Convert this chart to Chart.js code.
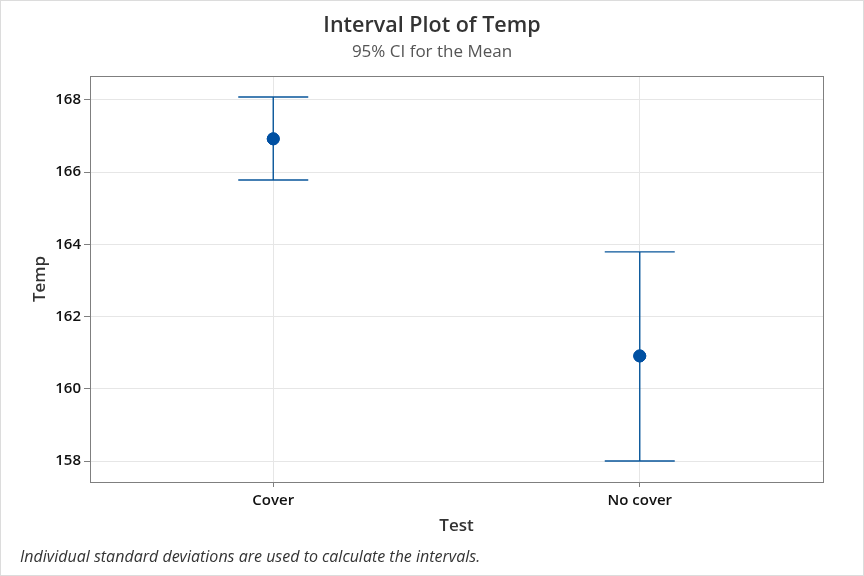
<!DOCTYPE html>
<html>
<head>
<meta charset="utf-8">
<script src="https://cdn.jsdelivr.net/npm/chart.js@4"></script>
<style>
  body { margin: 0; background: #fff; }
</style>
</head>
<body>
<canvas id="myChart" width="864" height="576"></canvas>
<script>
const categories = ["Cover", "No cover"];
const means = [166.92, 160.91];
const lowerCI = [165.78, 158.00];
const upperCI = [168.08, 163.79];
const yTicks = [158, 160, 162, 164, 166, 168];

const FONT = "'Open Sans', 'Noto Sans', sans-serif";
const lineColor = "#08569a";
const pointColor = "#0050a2";

// whiskers + frame + titles
const intervalPlugin = {
  id: "intervals",
  afterDatasetsDraw(chart) {
    const ctx = chart.ctx;
    const x = chart.scales.x, y = chart.scales.y;
    ctx.save();
    ctx.strokeStyle = lineColor;
    ctx.lineWidth = 1.4;
    for (let i = 0; i < categories.length; i++) {
      const px = x.getPixelForValue(i);
      const top = y.getPixelForValue(upperCI[i]);
      const bot = y.getPixelForValue(lowerCI[i]);
      ctx.beginPath();
      ctx.moveTo(px, top); ctx.lineTo(px, bot);
      ctx.moveTo(px - 35, top); ctx.lineTo(px + 35, top);
      ctx.moveTo(px - 35, bot); ctx.lineTo(px + 35, bot);
      ctx.stroke();
    }
    ctx.restore();
    // redraw the points on top of the lines
    const meta = chart.getDatasetMeta(0);
    meta.data.forEach(p => p.draw(ctx, chart.chartArea));
  },
  afterDraw(chart) {
    const ctx = chart.ctx;
    const a = chart.chartArea;
    ctx.save();
    ctx.strokeStyle = "#7f7f7f";
    ctx.lineWidth = 1;
    ctx.strokeRect(a.left + 0.5, a.top + 0.5, a.right - a.left, a.bottom - a.top);
    ctx.strokeStyle = "#dcdcdc";
    ctx.strokeRect(0.5, 0.5, chart.width - 1, chart.height - 1);

    ctx.textAlign = "center";
    ctx.textBaseline = "middle";
    ctx.fillStyle = "#333";
    ctx.font = "600 21.5px " + FONT;
    ctx.fillText("Interval Plot of Temp", chart.width / 2, 26);
    ctx.fillStyle = "#555";
    ctx.font = "17px " + FONT;
    ctx.fillText("95% CI for the Mean", chart.width / 2, 52);

    ctx.textAlign = "left";
    ctx.fillStyle = "#333";
    ctx.font = "italic 16px " + FONT;
    ctx.fillText("Individual standard deviations are used to calculate the intervals.", 20, 557);
    ctx.restore();
  }
};

new Chart("myChart", {
  type: "line",
  data: {
    labels: categories,
    datasets: [{
      data: means,
      showLine: false,
      pointRadius: 6,
      pointHoverRadius: 6,
      pointBackgroundColor: pointColor,
      pointBorderColor: pointColor
    }]
  },
  options: {
    responsive: false,
    animation: false,
    layout: { padding: { top: 76, right: 41, left: 0, bottom: 0 } },
    plugins: { legend: { display: false }, tooltip: { enabled: false } },
    scales: {
      x: {
        offset: true,
        grid: { color: "#e6e6e6", tickColor: "#7f7f7f", tickLength: 5, offset: false },
        border: { color: "#7f7f7f" },
        ticks: { color: "#111", padding: 5, font: { family: FONT, size: 15, weight: "600" } },
        title: { display: true, text: "Test", color: "#333", padding: { top: 0, bottom: 40 },
                 font: { family: FONT, size: 17, weight: "600" } },
        afterFit(scale) { scale.height = 94; }
      },
      y: {
        min: 157.42,
        max: 168.66,
        afterBuildTicks(scale) { scale.ticks = yTicks.map(v => ({ value: v })); },
        grid: { color: "#e6e6e6", tickColor: "#7f7f7f", tickLength: 6 },
        border: { color: "#7f7f7f" },
        ticks: { color: "#111", padding: 3, font: { family: FONT, size: 15, weight: "600" } },
        title: { display: true, text: "Temp", color: "#333", padding: { top: 30, bottom: 0 },
                 font: { family: FONT, size: 17, weight: "600" } },
        afterFit(scale) { scale.width = 90; }
      }
    }
  },
  plugins: [intervalPlugin]
});
</script>
</body>
</html>
